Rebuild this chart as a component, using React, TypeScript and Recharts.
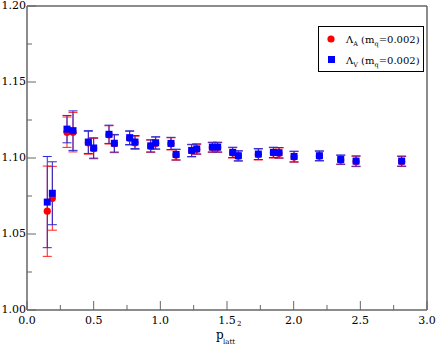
import {
  ScatterChart,
  Scatter,
  XAxis,
  YAxis,
  ErrorBar,
  Legend,
} from 'recharts';

// p_latt^2 positions and vertex values
const pA = [0.152, 0.19, 0.3, 0.345, 0.46, 0.5, 0.615, 0.655, 0.77, 0.81, 0.928, 0.965, 1.08, 1.118, 1.235, 1.273, 1.39, 1.43, 1.543, 1.585, 1.735, 1.848, 1.89, 2.003, 2.193, 2.353, 2.468, 2.81];
const lamA = [1.065, 1.0735, 1.117, 1.117, 1.11, 1.1062, 1.1152, 1.1093, 1.113, 1.11, 1.1077, 1.1097, 1.1093, 1.102, 1.1047, 1.1057, 1.1069, 1.1069, 1.1034, 1.1012, 1.1023, 1.1034, 1.1032, 1.1007, 1.1012, 1.0987, 1.0977, 1.0977];
const errA = [0.0297, 0.021, 0.01, 0.013, 0.0075, 0.0067, 0.006, 0.0058, 0.0045, 0.0043, 0.004, 0.004, 0.004, 0.0035, 0.004, 0.0033, 0.0032, 0.0032, 0.0034, 0.0033, 0.0036, 0.0034, 0.0034, 0.0035, 0.0032, 0.003, 0.0034, 0.0033];

const pV = [0.152, 0.19, 0.3, 0.345, 0.46, 0.5, 0.615, 0.655, 0.77, 0.81, 0.928, 0.965, 1.08, 1.118, 1.235, 1.273, 1.39, 1.43, 1.543, 1.585, 1.735, 1.848, 1.89, 2.003, 2.193, 2.353, 2.468, 2.81];
const lamV = [1.071, 1.0768, 1.119, 1.118, 1.1105, 1.1066, 1.1156, 1.1097, 1.1134, 1.1105, 1.108, 1.11, 1.1096, 1.1023, 1.105, 1.106, 1.1072, 1.1072, 1.1037, 1.1015, 1.1026, 1.1037, 1.1035, 1.101, 1.1015, 1.099, 1.098, 1.098];
const errV = [0.03, 0.0207, 0.009, 0.013, 0.0075, 0.0067, 0.006, 0.0058, 0.0045, 0.0043, 0.004, 0.004, 0.004, 0.0035, 0.004, 0.0033, 0.0032, 0.0032, 0.0034, 0.0033, 0.0036, 0.0034, 0.0034, 0.0035, 0.0032, 0.003, 0.0034, 0.0033];

const xTicks = [0, 0.25, 0.5, 0.75, 1, 1.25, 1.5, 1.75, 2, 2.25, 2.5, 2.75, 3];
const yTicks = [1.0, 1.025, 1.05, 1.075, 1.1, 1.125, 1.15, 1.175, 1.2];

const dataA = pA.map((p, i) => ({ p, lam: lamA[i], err: errA[i] }));
const dataV = pV.map((p, i) => ({ p, lam: lamV[i], err: errV[i] }));

const FONT = 'DejaVu Serif';
const AXIS = '#666';

const isMajorX = (v: number) => Math.round(v * 100) % 50 === 0;
const isMajorY = (v: number) => Math.round(v * 1000) % 50 === 0;

const BottomTick = ({ x, y, payload }: any) => {
  const major = isMajorX(payload.value);
  return (
    <g>
      <line x1={x} y1={y} x2={x} y2={y - (major ? 9 : 5)} stroke={AXIS} />
      {major && (
        <text x={x} y={y + 14} textAnchor="middle" fontSize={11} fontFamily={FONT} fill="#000">
          {payload.value.toFixed(1)}
        </text>
      )}
    </g>
  );
};

const TopTick = ({ x, y, payload }: any) => {
  const major = isMajorX(payload.value);
  return <line x1={x} y1={y} x2={x} y2={y + (major ? 9 : 5)} stroke={AXIS} />;
};

const LeftTick = ({ x, y, payload }: any) => {
  const major = isMajorY(payload.value);
  return (
    <g>
      <line x1={x} y1={y} x2={x + (major ? 9 : 5)} y2={y} stroke={AXIS} />
      {major && (
        <text x={x - 1} y={y + 3} textAnchor="end" fontSize={11} fontFamily={FONT} fill="#000">
          {payload.value.toFixed(2)}
        </text>
      )}
    </g>
  );
};

const RightTick = ({ x, y, payload }: any) => {
  const major = isMajorY(payload.value);
  return <line x1={x} y1={y} x2={x - (major ? 9 : 5)} y2={y} stroke={AXIS} />;
};

const XLabel = ({ viewBox }: any) => {
  const cx = viewBox.x + viewBox.width / 2;
  const top = viewBox.y;
  return (
    <g fontFamily={FONT} fill="#000">
      <text x={cx - 11} y={top + 29} fontSize={12}>p</text>
      <text x={cx - 4} y={top + 34} fontSize={7}>latt</text>
      <text x={cx + 10} y={top + 16} fontSize={7}>2</text>
    </g>
  );
};

const RedDot = ({ cx, cy }: any) => <circle cx={cx} cy={cy} r={3.6} fill="#ff0000" />;
const BlueSquare = ({ cx, cy }: any) => (
  <rect x={cx - 3.5} y={cy - 3.5} width={7} height={7} fill="#0000ff" />
);

const LegendBox = () => (
  <svg width={106} height={46} style={{ display: 'block' }}>
    <rect x={0.5} y={0.5} width={105} height={45} fill="#fff" stroke="#000" />
    <g fontFamily={FONT} fontSize={10} fill="#000">
      <circle cx={13} cy={13} r={3.6} fill="#ff0000" />
      <text x={28} y={17}>
        Λ<tspan fontSize={6.5} dy={3}>A</tspan>
        <tspan dy={-3}> (m</tspan>
        <tspan fontSize={6.5} dy={3}>q</tspan>
        <tspan dy={-3}>=0.002)</tspan>
      </text>
      <rect x={10} y={30} width={7} height={7} fill="#0000ff" />
      <text x={28} y={38}>
        Λ<tspan fontSize={6.5} dy={3}>V</tspan>
        <tspan dy={-3}> (m</tspan>
        <tspan fontSize={6.5} dy={3}>q</tspan>
        <tspan dy={-3}>=0.002)</tspan>
      </text>
    </g>
  </svg>
);

export default function App() {
  return (
    <div style={{ position: 'absolute', left: 0, top: 0, width: 436, height: 347, background: '#fff' }}>
      <ScatterChart width={436} height={347} margin={{ top: 5, right: 8, bottom: 0, left: 0 }}>
        <XAxis
          xAxisId="bottom"
          dataKey="p"
          type="number"
          domain={[0, 3]}
          ticks={xTicks}
          interval={0}
          height={37}
          stroke={AXIS}
          strokeWidth={1.5}
          tickSize={0}
          tickMargin={0}
          tickLine={false}
          tick={<BottomTick />}
          label={<XLabel />}
        />
        <XAxis
          xAxisId="top"
          orientation="top"
          type="number"
          domain={[0, 3]}
          ticks={xTicks}
          interval={0}
          height={1}
          stroke={AXIS}
          strokeWidth={1.5}
          tickSize={0}
          tickMargin={0}
          tickLine={false}
          tick={<TopTick />}
        />
        <YAxis
          yAxisId="left"
          dataKey="lam"
          type="number"
          domain={[1.0, 1.2]}
          ticks={yTicks}
          interval={0}
          width={27}
          stroke={AXIS}
          strokeWidth={1.5}
          tickSize={0}
          tickMargin={0}
          tickLine={false}
          tick={<LeftTick />}
        />
        <YAxis
          yAxisId="right"
          orientation="right"
          type="number"
          domain={[1.0, 1.2]}
          ticks={yTicks}
          interval={0}
          width={1}
          stroke={AXIS}
          strokeWidth={1.5}
          tickSize={0}
          tickMargin={0}
          tickLine={false}
          tick={<RightTick />}
        />
        <Legend
          layout="horizontal"
          verticalAlign="middle"
          content={() => <LegendBox />}
          wrapperStyle={{ left: 318, top: 26, width: 106, height: 46 }}
        />
        <Scatter
          name="A"
          data={dataA}
          xAxisId="bottom"
          yAxisId="left"
          shape={<RedDot />}
          isAnimationActive={false}
        >
          <ErrorBar dataKey="err" direction="y" width={4.5} stroke="#ff2020" strokeWidth={1} isAnimationActive={false} />
        </Scatter>
        <Scatter
          name="V"
          data={dataV}
          xAxisId="bottom"
          yAxisId="left"
          shape={<BlueSquare />}
          isAnimationActive={false}
        >
          <ErrorBar dataKey="err" direction="y" width={4.5} stroke="#2828d8" strokeWidth={1} isAnimationActive={false} />
        </Scatter>
      </ScatterChart>
    </div>
  );
}
